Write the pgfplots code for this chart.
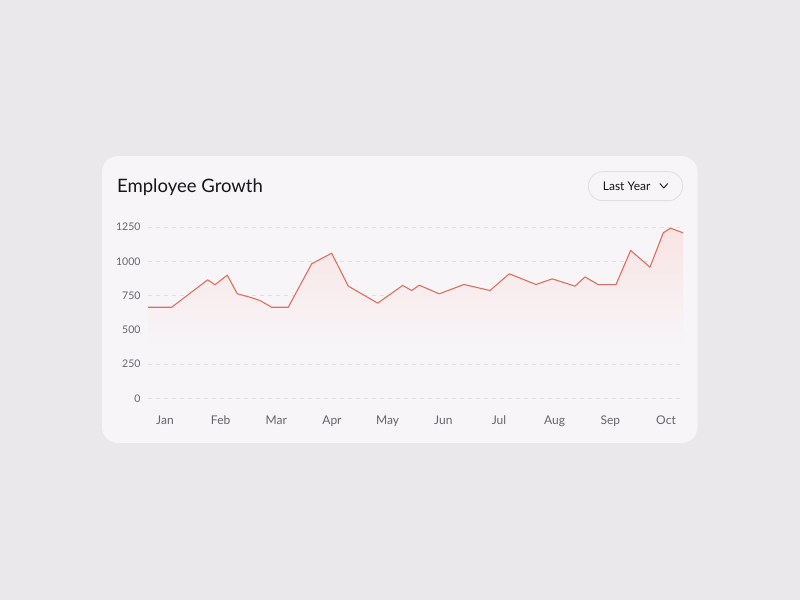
\documentclass[border=0pt]{standalone}
\usepackage{fontspec}
\setmainfont{Lato}
\usepackage{pgfplots}
\pgfplotsset{compat=1.18}

\definecolor{pagebg}{RGB}{234,232,235}
\definecolor{cardbg}{RGB}{247,245,248}
\definecolor{btnline}{RGB}{226,224,228}
\definecolor{gridgray}{RGB}{226,224,228}
\definecolor{tickgray}{RGB}{100,100,106}
\definecolor{titleblack}{RGB}{22,22,26}
\definecolor{linered}{RGB}{220,112,96}
\definecolor{fillpink}{RGB}{249,228,228}

\begin{document}
\begin{tikzpicture}

% page and card
\fill[pagebg] (0bp,0bp) rectangle (800bp,600bp);
\fill[cardbg, rounded corners=16bp] (102bp,157bp) rectangle (697.5bp,444bp);

% title
\node[anchor=base west, inner sep=0pt, text=titleblack,
      font=\fontsize{18.5bp}{22bp}\selectfont] at (117bp,407bp) {Employee Growth};

% period button
\draw[btnline, line width=0.9bp, fill=cardbg, rounded corners=14.5bp]
  (588.3bp,399.3bp) rectangle (682.7bp,428.3bp);
\node[anchor=base west, inner sep=0pt, text=titleblack,
      font=\fontsize{12bp}{14bp}\selectfont] at (602.7bp,409.7bp) {Last Year};
\draw[titleblack, line width=0.9bp, line cap=round, line join=round]
  (660bp,416.3bp) -- (663.8bp,412bp) -- (667.6bp,416.3bp);

\begin{axis}[
  at = {(148bp,201.5bp)},
  anchor = south west,
  scale only axis,
  width = 535bp,
  height = 171.5bp,
  xmin = -0.305, xmax = 9.305,
  ymin = 0, ymax = 1250,
  clip = false,
  axis line style = {draw=none},
  major tick style = {draw=none},
  major tick length = 0pt,
  xtick = {0,1,...,9},
  xticklabels = {Jan, Feb, Mar, Apr, May, Jun, Jul, Aug, Sep, Oct},
  ytick = {0,250,...,1250},
  xtick pos = bottom,
  ytick pos = left,
  ymajorgrids = true,
  grid style = {gridgray, line width=0.8bp, dash pattern=on 4bp off 4bp},
  /pgf/number format/assume math mode = true,
  /pgf/number format/1000 sep = {},
  xticklabel style = {
    anchor = base, inner sep = 0pt, yshift = -26.3bp,
    text = tickgray, font = \fontsize{12bp}{14bp}\selectfont,
  },
  yticklabel style = {
    anchor = east, inner sep = 0pt, xshift = -7.3bp,
    text = tickgray, font = \fontsize{10.5bp}{12bp}\selectfont,
  },
]

% soft area under the line
\addplot[draw=none, top color=fillpink, bottom color=cardbg] coordinates {
  (-0.305,372)
  (-0.305,665) (0.120,665) (0.767,865) (0.898,829) (1.119,899)
  (1.299,763) (1.527,738) (1.707,714) (1.917,665) (2.215,665)
  (2.635,982) (2.994,1059) (3.293,819) (3.821,695) (4.270,824)
  (4.432,787) (4.568,826) (4.927,763) (5.371,831) (5.838,787)
  (6.185,909) (6.664,831) (6.957,872) (7.365,819) (7.545,886)
  (7.783,830) (8.101,830) (8.365,1079) (8.712,957) (8.951,1208)
  (9.084,1241) (9.305,1208)
  (9.305,372)
};

% employees
\addplot[linered, line width=1.1bp, line join=round] coordinates {
  (-0.305,665) (0.120,665) (0.767,865) (0.898,829) (1.119,899)
  (1.299,763) (1.527,738) (1.707,714) (1.917,665) (2.215,665)
  (2.635,982) (2.994,1059) (3.293,819) (3.821,695) (4.270,824)
  (4.432,787) (4.568,826) (4.927,763) (5.371,831) (5.838,787)
  (6.185,909) (6.664,831) (6.957,872) (7.365,819) (7.545,886)
  (7.783,830) (8.101,830) (8.365,1079) (8.712,957) (8.951,1208)
  (9.084,1241) (9.305,1208)
};

\end{axis}
\end{tikzpicture}
\end{document}
